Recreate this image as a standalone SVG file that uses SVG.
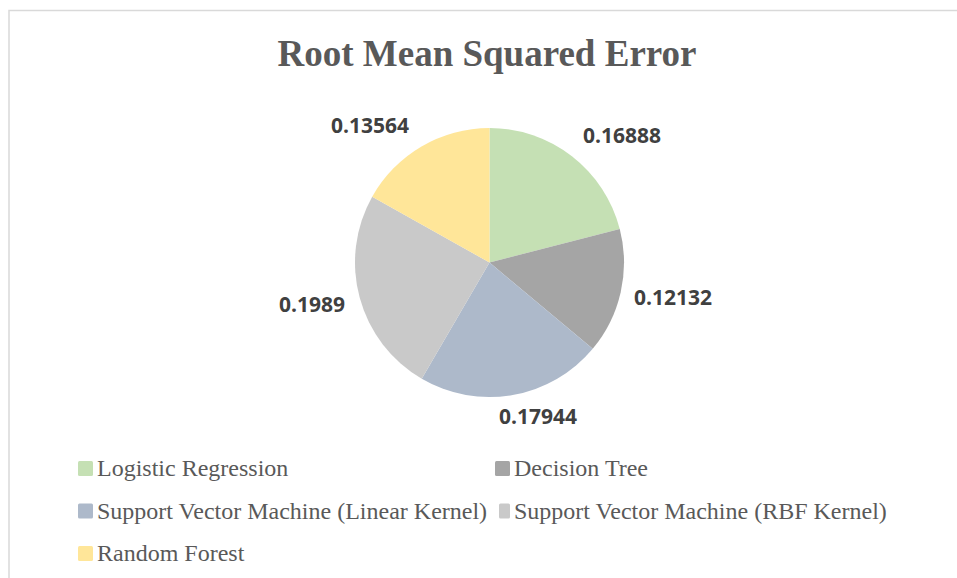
<svg xmlns="http://www.w3.org/2000/svg" width="957" height="578" viewBox="0 0 957 578">
<style>
.title{font-family:"Liberation Serif","Times New Roman",serif;font-weight:bold;font-size:37px;fill:#595959}
.lbl{font-family:"Open Sans","Liberation Sans",sans-serif;font-weight:bold;font-size:21px;fill:#404040}
.leg{font-family:"Liberation Serif","Times New Roman",serif;font-size:24px;fill:#595959}
</style>
<rect x="0" y="0" width="957" height="578" fill="#ffffff"/>
<rect x="9" y="10.5" width="960" height="580" fill="#ffffff" stroke="#d9d9d9" stroke-width="1.5"/>
<text class="title" x="487" y="66" text-anchor="middle">Root Mean Squared Error</text>
<g id="pie">
<g id="slice-lr"><path d="M489.5,262.5 L489.5,128 A134.5,134.5 0 0 1 619.77,229.05 Z" fill="#C5E0B4"/></g>
<g id="slice-dt"><path d="M489.5,262.5 L619.77,229.05 A134.5,134.5 0 0 1 592.72,348.73 Z" fill="#A5A5A5"/></g>
<g id="slice-svml"><path d="M489.5,262.5 L592.72,348.73 A134.5,134.5 0 0 1 421.76,378.7 Z" fill="#ADB9CA"/></g>
<g id="slice-svmr"><path d="M489.5,262.5 L421.76,378.7 A134.5,134.5 0 0 1 372.19,196.71 Z" fill="#C9C9C9"/></g>
<g id="slice-rf"><path d="M489.5,262.5 L372.19,196.71 A134.5,134.5 0 0 1 489.5,128 Z" fill="#FFE699"/></g>
</g>
<g id="labels">
<text class="lbl" x="583" y="143">0.16888</text>
<text class="lbl" x="634" y="305">0.12132</text>
<text class="lbl" x="499" y="424">0.17944</text>
<text class="lbl" x="345" y="312" text-anchor="end">0.1989</text>
<text class="lbl" x="331" y="133">0.13564</text>
</g>
<g id="legend">
<g id="leg-lr"><rect x="78" y="461" width="15" height="15" rx="1.5" fill="#C5E0B4"/><text class="leg" x="97" y="476">Logistic Regression</text></g>
<g id="leg-dt"><rect x="495" y="461" width="15" height="15" rx="1.5" fill="#A5A5A5"/><text class="leg" x="514" y="476">Decision Tree</text></g>
<g id="leg-svml"><rect x="78" y="503.5" width="15" height="15" rx="1.5" fill="#ADB9CA"/><text class="leg" x="97" y="518.5">Support Vector Machine (Linear Kernel)</text></g>
<g id="leg-svmr"><rect x="499" y="503.5" width="11" height="15" rx="1.5" fill="#C9C9C9"/><text class="leg" x="514" y="518.5">Support Vector Machine (RBF Kernel)</text></g>
<g id="leg-rf"><rect x="78" y="546" width="15" height="15" rx="1.5" fill="#FFE699"/><text class="leg" x="97" y="561">Random Forest</text></g>
</g>
</svg>
